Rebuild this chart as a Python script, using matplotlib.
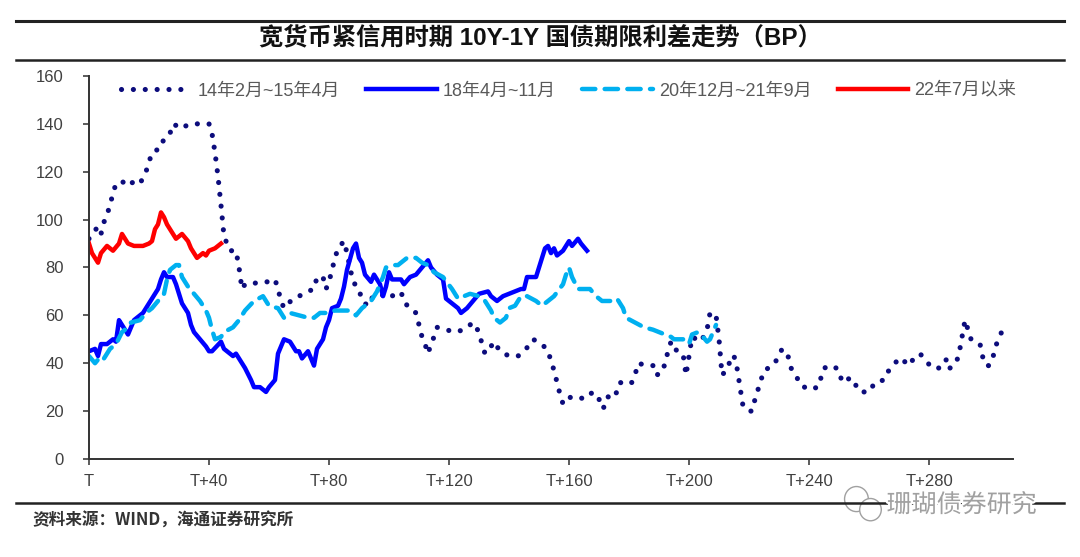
import numpy as np
import matplotlib
matplotlib.use('Agg')
import matplotlib.pyplot as plt
import matplotlib.patheffects as pe
from matplotlib.lines import Line2D
from matplotlib.patches import Ellipse

# Fonts: latin text first, then CJK fallback
plt.rcParams['font.family'] = ['Liberation Sans', 'Noto Sans CJK SC', 'DejaVu Sans']

# The four periods as (trading day after T, spread in BP)
pts_14 = [(0, 92), (1, 94), (3, 97), (4, 94), (5, 99), (6, 102), (7, 106), (8, 111), (9, 115),
          (11, 116), (13, 114), (15, 116), (17, 115), (19, 120), (20, 124), (21, 128), (24, 130),
          (25, 134), (27, 136), (28, 140), (31, 138), (32, 139), (34, 140), (36, 140), (40, 140),
          (41, 136), (42, 128), (43, 118), (44, 106), (45, 93), (47, 87), (49, 87), (50, 80),
          (51, 71), (52, 73), (54, 73), (57, 74), (60, 74), (62, 75), (63, 71), (64, 66), (65, 63),
          (68, 67), (70, 68), (73, 70), (75, 71), (76, 76), (78, 76), (79, 71), (80, 74), (81, 79),
          (82, 84), (83, 88), (85, 91), (86, 86), (88, 74), (90, 71), (91, 66), (93, 64), (94, 67),
          (97, 69), (100, 67), (103, 70), (105, 68), (106, 64), (109, 61), (110, 56), (111, 51),
          (112, 48), (113, 44), (114, 48), (115, 51), (116, 55), (119, 54), (122, 53), (125, 54),
          (128, 57), (130, 53), (131, 48), (132, 44), (134, 47), (135, 49), (137, 45), (140, 43),
          (143, 43), (145, 45), (147, 48), (148, 50), (151, 48), (153, 45), (154, 41), (155, 37),
          (156, 32), (157, 27), (158, 23), (159, 25), (161, 26), (163, 26), (165, 25), (168, 28),
          (170, 25), (171, 21), (172, 22), (173, 26), (174, 25), (176, 28), (177, 32), (179, 31),
          (181, 32), (182, 35), (183, 40), (186, 39), (188, 39), (189, 35), (191, 36), (192, 40),
          (193, 45), (194, 49), (195, 46), (198, 44), (199, 35), (200, 43), (201, 51), (204, 49),
          (206, 54), (207, 61), (208, 61), (209, 60), (210, 50), (211, 35), (213, 38), (214, 43),
          (215, 43), (216, 38), (217, 30), (218, 22), (220, 20), (221, 20), (222, 25), (223, 29),
          (224, 33), (225, 37), (228, 39), (230, 43), (231, 46), (233, 43), (234, 38), (236, 34),
          (237, 31), (240, 29), (243, 30), (244, 34), (245, 38), (248, 39), (250, 37), (251, 32),
          (254, 34), (256, 30), (257, 28), (259, 28), (260, 28), (262, 32), (265, 33), (266, 36),
          (268, 39), (270, 42), (271, 42), (273, 39), (275, 42), (277, 44), (279, 41), (281, 38),
          (284, 38), (286, 42), (287, 38), (289, 40), (290, 44), (291, 51), (292, 58), (293, 54),
          (294, 50), (297, 48), (298, 42), (299, 39), (300, 39), (301, 41), (302, 46), (303, 50),
          (305, 55)]

pts_18 = [(0, 45), (2, 46), (3, 43), (4, 48), (6, 48), (8, 50), (9, 49), (10, 58), (11, 56),
          (13, 52), (14, 55), (15, 58), (18, 61), (19, 63), (21, 67), (23, 71), (24, 75), (25, 78),
          (26, 76), (28, 76), (29, 73), (30, 69), (31, 65), (33, 61), (34, 56), (35, 53), (37, 50),
          (39, 47), (40, 45), (41, 45), (44, 49), (45, 46), (48, 43), (49, 44), (51, 40), (52, 38),
          (54, 33), (55, 30), (57, 30), (59, 28), (60, 30), (62, 33), (63, 44), (65, 50), (67, 49),
          (69, 45), (70, 45), (71, 42), (73, 45), (75, 39), (76, 46), (78, 50), (79, 55), (80, 58),
          (81, 63), (83, 64), (84, 67), (85, 72), (86, 79), (88, 88), (89, 90), (90, 84), (91, 82),
          (92, 77), (94, 74), (95, 77), (97, 73), (98, 68), (99, 72), (100, 78), (101, 75), (104, 75),
          (105, 73), (107, 76), (109, 77), (111, 80), (113, 83), (114, 80), (116, 77), (118, 75),
          (119, 67), (120, 66), (123, 63), (124, 61), (126, 63), (128, 66), (130, 69), (133, 70),
          (134, 68), (136, 66), (138, 68), (140, 69), (142, 70), (144, 71), (145, 71), (146, 76),
          (149, 76), (150, 80), (151, 84), (152, 88), (153, 89), (154, 86), (155, 88), (156, 85),
          (158, 87), (159, 89), (160, 91), (161, 89), (163, 92), (164, 90), (166, 87)]

pts_20 = [(0, 43), (2, 40), (4, 43), (5, 42), (7, 46), (9, 48), (11, 53), (13, 55), (14, 57),
          (17, 58), (19, 61), (21, 63), (23, 66), (25, 69), (26, 75), (27, 79), (29, 81), (30, 81),
          (31, 76), (33, 72), (35, 69), (37, 66), (39, 62), (40, 59), (41, 54), (42, 50), (44, 51),
          (45, 53), (48, 55), (50, 58), (52, 62), (55, 66), (58, 68), (60, 64), (63, 63), (65, 59),
          (67, 61), (70, 60), (73, 59), (75, 59), (77, 61), (79, 61), (82, 62), (85, 62), (87, 62),
          (89, 60), (91, 63), (94, 66), (96, 70), (98, 76), (99, 80), (102, 81), (103, 81), (106, 84),
          (109, 84), (111, 82), (113, 81), (115, 78), (118, 76), (121, 71), (123, 67), (125, 68),
          (127, 69), (130, 68), (132, 66), (134, 62), (135, 59), (137, 57), (139, 59), (140, 63),
          (142, 64), (144, 68), (146, 68), (149, 66), (151, 64), (153, 66), (155, 68), (158, 73),
          (159, 77), (160, 80), (161, 76), (163, 71), (165, 71), (167, 71), (169, 68), (171, 66),
          (174, 66), (176, 67), (178, 63), (179, 59), (182, 57), (185, 55), (188, 54), (190, 53),
          (192, 52), (194, 51), (195, 50), (198, 50), (200, 48), (201, 52), (203, 53), (204, 52),
          (206, 49), (207, 50), (209, 56)]

pts_22 = [(0, 90), (1, 86), (3, 82), (4, 86), (6, 89), (8, 87), (10, 90), (11, 94), (13, 90),
          (15, 89), (18, 89), (20, 90), (21, 91), (22, 96), (23, 98), (24, 103), (25, 101), (26, 98),
          (28, 94), (29, 92), (31, 94), (33, 91), (34, 88), (36, 84), (38, 86), (39, 85), (40, 87),
          (42, 88), (44, 90)]

labels = ['14年2月~15年4月', '18年4月~11月', '20年12月~21年9月', '22年7月以来']
x_ticks = [0, 40, 80, 120, 160, 200, 240, 280]
x_tick_labels = ['T', 'T+40', 'T+80', 'T+120', 'T+160', 'T+200', 'T+240', 'T+280']
y_ticks = [0, 20, 40, 60, 80, 100, 120, 140, 160]

title = '宽货币紧信用时期 10Y-1Y 国债期限利差走势（BP）'
source = '资料来源：WIND，海通证券研究所'
mark = '珊瑚债券研究'

fig = plt.figure(figsize=(10.8, 5.57), dpi=100)
ax = fig.add_axes([0.0824, 0.176, 0.8556, 0.6876])

# draw the four lines
d, v = zip(*pts_14)
ax.plot(d, v, color='#0c0c7c', lw=3.7, linestyle=(0, (0.01, 2.3)),
        dash_capstyle='round', label=labels[0])
d, v = zip(*pts_18)
ax.plot(d, v, color='#0000ff', lw=3.2, solid_joinstyle='round', label=labels[1])
d, v = zip(*pts_20)
ax.plot(d, v, color='#00b0f0', lw=3.2, linestyle=(0, (3.0, 2.1)),
        dash_capstyle='round', label=labels[2])
d, v = zip(*pts_22)
ax.plot(d, v, color='#ff0000', lw=3.2, solid_joinstyle='round', label=labels[3])

ax.set_xlim(0, 308)
ax.set_ylim(0, 160)
ax.set_xticks(x_ticks)
ax.set_xticklabels(x_tick_labels)
ax.set_yticks(y_ticks)
ax.tick_params(axis='both', labelsize=12, colors='#404040', length=4, width=1.2, direction='out')
ax.tick_params(axis='x', pad=7)
ax.tick_params(axis='y', pad=14)
for side in ['top', 'right']:
    ax.spines[side].set_visible(False)
for side in ['left', 'bottom']:
    ax.spines[side].set_color('#333333')
    ax.spines[side].set_linewidth(1.4)

leg = ax.legend(loc='upper left', bbox_to_anchor=(0.017, 1.025), ncol=4, frameon=False,
                handlelength=3.9, handletextpad=0.35, columnspacing=1.45, fontsize=13)
for t in leg.get_texts():
    t.set_color('#595959')

# title with the two rules above and below it
fig.text(0.5, 0.933, title, ha='center', va='center', fontsize=17.5, fontweight='bold',
         family=['Liberation Sans', 'Noto Sans CJK SC', 'DejaVu Sans'], color='#111111')
fig.add_artist(Line2D([0.015, 0.985], [0.962, 0.962], color='#222222', lw=2.2))
fig.add_artist(Line2D([0.015, 0.985], [0.893, 0.893], color='#222222', lw=1.8))
fig.add_artist(Line2D([0.015, 0.985], [0.097, 0.097], color='#222222', lw=1.8))

fig.text(0.03, 0.065, source, ha='left', va='center', fontsize=12, fontweight='bold',
         family=['Noto Sans CJK SC', 'DejaVu Sans'], color='#333333')

# watermark at bottom right, drawn over the bottom rule
white = [pe.withStroke(linewidth=3, foreground='white')]
e1 = Ellipse((0.793, 0.104), 0.022, 0.045, fc='white', ec='#a0a0a0', lw=1.0)
e2 = Ellipse((0.806, 0.085), 0.02, 0.04, fc='white', ec='#a0a0a0', lw=1.0)
fig.add_artist(e1)
fig.add_artist(e2)
fig.text(0.821, 0.093, mark, ha='left', va='center', fontsize=18,
         family=['Noto Sans CJK SC', 'DejaVu Sans'], color='#a0a0a0', path_effects=white)

fig.savefig('out.png', dpi=100)
